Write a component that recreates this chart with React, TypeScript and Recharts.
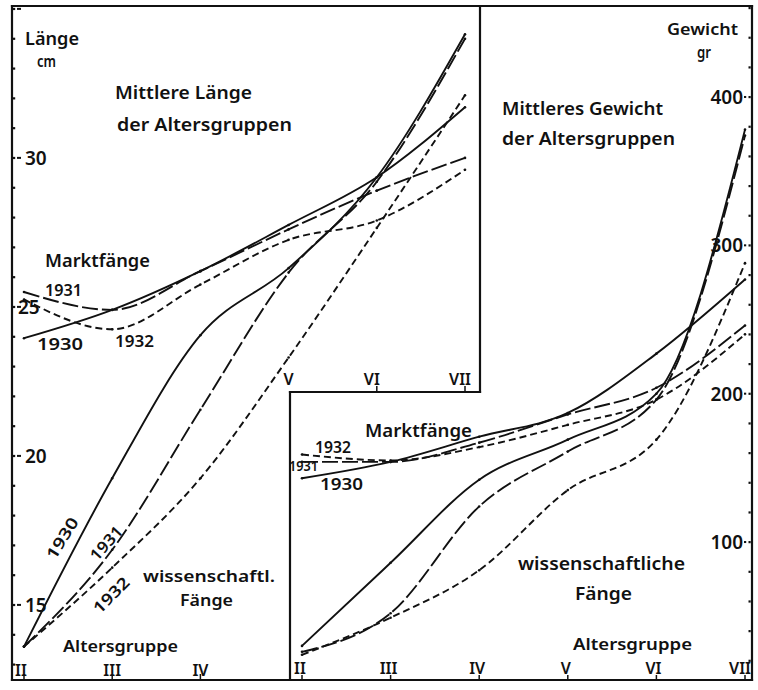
import React from 'react';
import { LineChart, Line, XAxis, YAxis } from 'recharts';

// ---------- data ----------
const AGE_GROUPS = [2, 3, 4, 5, 6, 7];
const AGE_LABELS = ['II', 'III', 'IV', 'V', 'VI', 'VII'];

// Mittlere Länge (cm)
const LEN_MARKT_1930 = [23.95, 24.9, 26.2, 27.75, 29.35, 31.7];
const LEN_MARKT_1931 = [25.5, 24.9, 26.2, 27.6, 28.9, 30.0];
const LEN_MARKT_1932 = [25.25, 24.25, 25.75, 27.25, 27.9, 29.6];
const LEN_WISS_1930 = [13.6, 19.25, 24.05, 26.3, 29.35, 34.15];
const LEN_WISS_1931 = [13.6, 16.85, 21.55, 26.15, 29.2, 34.0];
const LEN_WISS_1932 = [13.6, 16.25, 19.25, 23.3, 27.65, 32.1];

// Mittleres Gewicht (gr)
const WT_MARKT_1930 = [143, 154, 171, 187, 227, 277];
const WT_MARKT_1931 = [154, 154, 167, 186, 204, 246];
const WT_MARKT_1932 = [159, 155, 164, 179, 196, 240];
const WT_WISS_1930 = [30, 86, 142, 169, 200, 378];
const WT_WISS_1931 = [26, 52, 124, 161, 196, 374];
const WT_WISS_1932 = [24, 49, 81, 135, 169, 288];

const LEN_TICKS = Array.from({ length: 23 }, (_, i) => 13 + i); // 13..35
const LEN_LABELS: Record<number, string> = { 15: '15', 20: '20', 25: '25', 30: '30', 34: 'Länge' };
const WT_TICKS = Array.from({ length: 23 }, (_, i) => 20 + i * 20); // 20..460
const WT_LABELS: Record<number, string> = { 100: '100', 200: '200', 300: '300', 400: '400' };

// ---------- layout ----------
const W = 758;
const H = 690;
const FRAME_LEFT = 12;
const FRAME_RIGHT = 752;
const FRAME_TOP = 6;
const FRAME_BOTTOM = 680;
const SPLIT_X_TOP = 480;
const SPLIT_Y = 392;
const SPLIT_X_BOTTOM = 290;

const LEN_DOMAIN: [number, number] = [12.48, 35.13];
const WT_DOMAIN: [number, number] = [7, 462];
const AGE_DOMAIN_L: [number, number] = [1.864, 7.17];
const AGE_DOMAIN_R: [number, number] = [1.8646, 7.079];

const FONT = '"Noto Sans", "DejaVu Sans", sans-serif';
const INK = '#111';

const dash: Record<string, string | undefined> = {
  '1930': undefined,
  '1931': '16 4',
  '1932': '7 4',
};

const lengthData = AGE_GROUPS.map((age, i) => ({
  age,
  m1930: LEN_MARKT_1930[i],
  m1931: LEN_MARKT_1931[i],
  m1932: LEN_MARKT_1932[i],
  w1930: LEN_WISS_1930[i],
  w1931: LEN_WISS_1931[i],
  w1932: LEN_WISS_1932[i],
}));

const weightData = AGE_GROUPS.map((age, i) => ({
  age,
  m1930: WT_MARKT_1930[i],
  m1931: WT_MARKT_1931[i],
  m1932: WT_MARKT_1932[i],
  w1930: WT_WISS_1930[i],
  w1931: WT_WISS_1931[i],
  w1932: WT_WISS_1932[i],
}));

const SERIES = ['m1930', 'm1931', 'm1932', 'w1930', 'w1931', 'w1932'];

const tinyDot = { r: 1.3, fill: INK, stroke: 'none' };

const renderLines = () =>
  SERIES.map((k) => (
    <Line
      key={k}
      dataKey={k}
      type="monotone"
      stroke={INK}
      strokeWidth={1.9}
      strokeDasharray={dash[k.slice(1)]}
      dot={tinyDot}
      activeDot={false}
      isAnimationActive={false}
    />
  ));

const txt = {
  fontFamily: FONT,
  fontWeight: 600,
  fill: INK,
} as const;

const ageLabel = (v: number) => AGE_LABELS[AGE_GROUPS.indexOf(v)];

const LeftYTick = (props: any) => {
  const { y, payload } = props;
  const v = payload.value as number;
  const label = LEN_LABELS[v];
  const major = v % 5 === 0;
  return (
    <g>
      <rect x={FRAME_LEFT + 1} y={y - 1} width={2.2} height={2.2} fill={INK} />
      {major && <rect x={FRAME_LEFT + 5} y={y - 1} width={4} height={2} fill={INK} />}
      {label && (
        <text
          x={v === 25 ? FRAME_LEFT + 6 : FRAME_LEFT + 13}
          y={y}
          dominantBaseline="central"
          fontSize={v === 34 ? 17 : 19}
          textLength={v === 34 ? 54 : undefined}
          lengthAdjust="spacingAndGlyphs"
          {...txt}
        >
          {label}
        </text>
      )}
    </g>
  );
};

const RightYTick = (props: any) => {
  const { y, payload } = props;
  const v = payload.value as number;
  const label = WT_LABELS[v];
  return (
    <g>
      <rect x={FRAME_RIGHT - 3.5} y={y - 1} width={2.2} height={2.2} fill={INK} />
      {label && <rect x={FRAME_RIGHT - 8} y={y - 1} width={2.2} height={2} fill={INK} />}
      {label && (
        <text x={FRAME_RIGHT - 9} y={y} dominantBaseline="central" textAnchor="end" fontSize={19} {...txt}>
          {label}
        </text>
      )}
    </g>
  );
};

const LeftXTick = (props: any) => {
  const { x, payload } = props;
  const v = payload.value as number;
  const upper = v >= 5;
  const baseY = upper ? SPLIT_Y : FRAME_BOTTOM;
  const dx = v === 2 ? -3 : v >= 6 ? -5 : 0;
  return (
    <g>
      {v !== 5 && <line x1={x} x2={x} y1={baseY} y2={baseY - 6} stroke={INK} strokeWidth={1.5} />}
      <text x={x + dx} y={baseY - (upper ? 13 : 10)} textAnchor="middle" dominantBaseline="central" fontSize={16} {...txt}>
        {ageLabel(v)}
      </text>
    </g>
  );
};

const RightXTick = (props: any) => {
  const { x, payload } = props;
  const v = payload.value as number;
  const dx = v === 7 ? -5 : v === 6 ? -3 : -2;
  return (
    <g>
      <line x1={x} x2={x} y1={FRAME_BOTTOM} y2={FRAME_BOTTOM - 5} stroke={INK} strokeWidth={1.5} />
      <text x={x + dx} y={FRAME_BOTTOM - 12} textAnchor="middle" dominantBaseline="central" fontSize={16} {...txt}>
        {ageLabel(v)}
      </text>
    </g>
  );
};

type Lbl = { t: string; x: number; y: number; w: number; fs: number; rot?: number };

const LABELS: Lbl[] = [
  { t: 'cm', x: 37, y: 61, w: 19, fs: 16 },
  { t: 'Mittlere Länge', x: 115, y: 92, w: 137, fs: 17 },
  { t: 'der Altersgruppen', x: 117, y: 124, w: 175, fs: 17 },
  { t: 'Gewicht', x: 667, y: 29, w: 71, fs: 16 },
  { t: 'gr', x: 697, y: 52, w: 14, fs: 16 },
  { t: 'Mittleres Gewicht', x: 502, y: 108, w: 161, fs: 17 },
  { t: 'der Altersgruppen', x: 502, y: 138, w: 173, fs: 17 },
  { t: 'Marktfänge', x: 45, y: 260, w: 105, fs: 17 },
  { t: '1931', x: 45, y: 290, w: 37, fs: 16 },
  { t: '1930', x: 37, y: 344, w: 46, fs: 16 },
  { t: '1932', x: 115, y: 341, w: 39, fs: 16 },
  { t: 'wissenschaftl.', x: 143, y: 576, w: 132, fs: 16 },
  { t: 'Fänge', x: 180, y: 600, w: 53, fs: 16 },
  { t: 'Altersgruppe', x: 63, y: 646, w: 115, fs: 16 },
  { t: 'Marktfänge', x: 365, y: 430, w: 107, fs: 17 },
  { t: '1932', x: 315, y: 447, w: 36, fs: 16 },
  { t: '1931', x: 289, y: 465, w: 29, fs: 15 },
  { t: '1930', x: 320, y: 484, w: 43, fs: 16 },
  { t: 'wissenschaftliche', x: 518, y: 563, w: 167, fs: 17 },
  { t: 'Fänge', x: 575, y: 593, w: 57, fs: 17 },
  { t: 'Altersgruppe', x: 573, y: 644, w: 119, fs: 16 },
];

const ROT_LABELS: Lbl[] = [
  { t: '1930', x: 62, y: 538, w: 46, fs: 16, rot: -58 },
  { t: '1931', x: 106, y: 543, w: 40, fs: 16, rot: -48 },
  { t: '1932', x: 111, y: 595, w: 44, fs: 16, rot: -45 },
];

const Overlay = () => (
  <svg width={W} height={H} style={{ position: 'absolute', left: 0, top: 0, pointerEvents: 'none' }}>
    <g stroke={INK} strokeWidth={2.2} fill="none" strokeLinecap="square">
      <line x1={FRAME_LEFT} y1={FRAME_TOP} x2={FRAME_RIGHT} y2={FRAME_TOP} />
      <line x1={FRAME_LEFT} y1={FRAME_TOP} x2={FRAME_LEFT} y2={FRAME_BOTTOM} />
      <line x1={FRAME_LEFT} y1={FRAME_BOTTOM} x2={FRAME_RIGHT} y2={FRAME_BOTTOM} />
      <line x1={FRAME_RIGHT} y1={FRAME_TOP} x2={FRAME_RIGHT} y2={FRAME_BOTTOM} />
      <line x1={SPLIT_X_TOP} y1={FRAME_TOP} x2={SPLIT_X_TOP} y2={SPLIT_Y} />
      <line x1={SPLIT_X_BOTTOM} y1={SPLIT_Y} x2={SPLIT_X_TOP} y2={SPLIT_Y} />
      <line x1={SPLIT_X_BOTTOM} y1={SPLIT_Y} x2={SPLIT_X_BOTTOM} y2={FRAME_BOTTOM} />
    </g>
    {LABELS.map((l, i) => (
      <text
        key={i}
        x={l.x}
        y={l.y}
        dominantBaseline="central"
        fontSize={l.fs}
        textLength={l.w}
        lengthAdjust="spacingAndGlyphs"
        {...txt}
      >
        {l.t}
      </text>
    ))}
    {ROT_LABELS.map((l, i) => (
      <text
        key={'r' + i}
        x={l.x}
        y={l.y}
        textAnchor="middle"
        dominantBaseline="central"
        fontSize={l.fs}
        textLength={l.w}
        lengthAdjust="spacingAndGlyphs"
        transform={`rotate(${l.rot} ${l.x} ${l.y})`}
        {...txt}
      >
        {l.t}
      </text>
    ))}
  </svg>
);

export default function App() {
  return (
    <div style={{ position: 'absolute', left: 0, top: 0, width: W, height: H, background: '#fff' }}>
      <div style={{ position: 'absolute', left: 0, top: 0 }}>
        <LineChart
          width={W}
          height={H}
          data={lengthData}
          margin={{ top: 5, right: W - SPLIT_X_TOP, bottom: H - FRAME_BOTTOM - 1, left: FRAME_LEFT - 1 }}
        >
          <XAxis
            dataKey="age"
            type="number"
            domain={AGE_DOMAIN_L}
            allowDataOverflow
            ticks={AGE_GROUPS}
            height={1}
            axisLine={false}
            tickLine={false}
            tick={<LeftXTick />}
            interval={0}
          />
          <YAxis
            type="number"
            domain={LEN_DOMAIN}
            allowDataOverflow
            ticks={LEN_TICKS}
            width={1}
            axisLine={false}
            tickLine={false}
            tick={<LeftYTick />}
            interval={0}
          />
          {renderLines()}
        </LineChart>
      </div>
      <div style={{ position: 'absolute', left: 0, top: 0 }}>
        <LineChart
          width={W}
          height={H}
          data={weightData}
          margin={{ top: 5, right: W - FRAME_RIGHT - 1, bottom: H - FRAME_BOTTOM - 1, left: SPLIT_X_BOTTOM }}
        >
          <XAxis
            dataKey="age"
            type="number"
            domain={AGE_DOMAIN_R}
            allowDataOverflow
            ticks={AGE_GROUPS}
            height={1}
            axisLine={false}
            tickLine={false}
            tick={<RightXTick />}
            interval={0}
          />
          <YAxis
            type="number"
            orientation="right"
            domain={WT_DOMAIN}
            allowDataOverflow
            ticks={WT_TICKS}
            width={1}
            axisLine={false}
            tickLine={false}
            tick={<RightYTick />}
            interval={0}
          />
          {renderLines()}
        </LineChart>
      </div>
      <Overlay />
    </div>
  );
}
